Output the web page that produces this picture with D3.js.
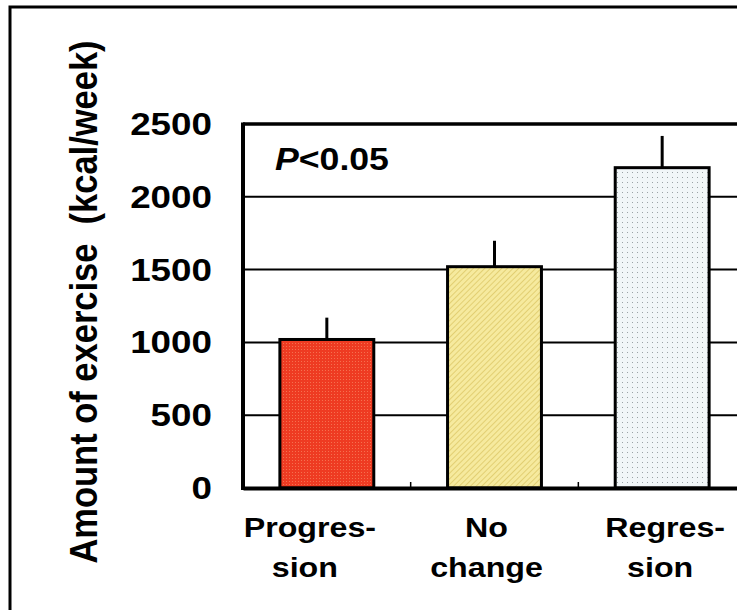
<!DOCTYPE html>
<html>
<head>
<meta charset="utf-8">
<script src="https://cdn.jsdelivr.net/npm/d3@7"></script>
<style>
  body { margin: 0; background: #fff; }
  svg { display: block; }
</style>
</head>
<body>
<svg class="exercise"></svg>
<script>
// data
const categories = ["Progression", "No change", "Regression"];
const labelLines = [["Progres-", "sion"], ["No", "change"], ["Regres-", "sion"]];
const meanValues = [1020, 1520, 2200];
const errValues = [150, 178, 218];
const yTicks = [0, 500, 1000, 1500, 2000, 2500];
const pText = ["P", "<0.05"];

const W = 737, H = 610;
const stretch = 1.15; // the picture is a bit wide
const font = "'Liberation Sans', Arial, sans-serif";

const svg = d3.select(".exercise")
    .attr("width", W)
    .attr("height", H);

// textures for the bars
const defs = svg.append("defs");

const red = defs.append("pattern")
    .attr("id", "fillRed")
    .attr("patternUnits", "userSpaceOnUse")
    .attr("width", 3).attr("height", 3);
red.append("rect").attr("width", 3).attr("height", 3).attr("fill", "#ee3b22");
red.append("rect").attr("x", 1).attr("y", 1).attr("width", 1).attr("height", 1).attr("fill", "#f5704f");

const yellow = defs.append("pattern")
    .attr("id", "fillYellow")
    .attr("patternUnits", "userSpaceOnUse")
    .attr("width", 4).attr("height", 4)
    .attr("patternTransform", "rotate(45)");
yellow.append("rect").attr("width", 4).attr("height", 4).attr("fill", "#f6ea9e");
yellow.append("rect").attr("width", 1).attr("height", 4).attr("fill", "#e2cf73");

const light = defs.append("pattern")
    .attr("id", "fillLight")
    .attr("patternUnits", "userSpaceOnUse")
    .attr("width", 5).attr("height", 5);
light.append("rect").attr("width", 5).attr("height", 5).attr("fill", "#f1f6f8");
light.append("rect").attr("x", 2).attr("y", 2).attr("width", 1).attr("height", 1).attr("fill", "#9aa2a6");

const fills = ["url(#fillRed)", "url(#fillYellow)", "url(#fillLight)"];

// outer frame of the figure (cropped at right and bottom)
svg.append("rect")
    .attr("x", 10).attr("y", 7)
    .attr("width", W + 20).attr("height", H + 20)
    .attr("fill", "none")
    .attr("stroke", "#000")
    .attr("stroke-width", 3);

const plot = {left: 243, top: 124, bottom: 488, right: 746};

const x = d3.scaleBand()
    .domain(categories)
    .range([plot.left, plot.right])
    .paddingInner(0)
    .paddingOuter(0);

const y = d3.scaleLinear()
    .domain([0, 2500])
    .range([plot.bottom, plot.top]);

const barFactor = 0.56;

function stretchText(sel, px, py) {
    return sel.attr("transform", `translate(${px},${py}) scale(${stretch},1)`);
}

// grid lines
svg.append("g")
    .selectAll("line")
    .data(yTicks.filter(d => d > 0 && d < 2500))
    .enter()
    .append("line")
        .attr("x1", plot.left)
        .attr("x2", plot.right)
        .attr("y1", d => y(d))
        .attr("y2", d => y(d))
        .attr("stroke", "#000")
        .attr("stroke-width", 2);

// error bars (upper only)
svg.append("g")
    .selectAll("line")
    .data(categories)
    .enter()
    .append("line")
        .attr("x1", d => x(d) + x.bandwidth() / 2)
        .attr("x2", d => x(d) + x.bandwidth() / 2)
        .attr("y1", (d, i) => y(meanValues[i]))
        .attr("y2", (d, i) => y(meanValues[i] + errValues[i]))
        .attr("stroke", "#000")
        .attr("stroke-width", 3);

// bars
svg.append("g")
    .selectAll("rect")
    .data(categories)
    .enter()
    .append("rect")
        .attr("x", d => x(d) + x.bandwidth() * (1 - barFactor) / 2)
        .attr("width", x.bandwidth() * barFactor)
        .attr("y", (d, i) => y(meanValues[i]))
        .attr("height", (d, i) => y(0) - y(meanValues[i]))
        .attr("fill", (d, i) => fills[i])
        .attr("stroke", "#000")
        .attr("stroke-width", 3);

// top frame line
svg.append("line")
    .attr("x1", plot.left).attr("x2", plot.right)
    .attr("y1", y(2500)).attr("y2", y(2500))
    .attr("stroke", "#000")
    .attr("stroke-width", 3.5);

// x axis with small inner ticks at the band edges
svg.append("g")
    .attr("transform", `translate(0,${plot.bottom})`)
    .call(d3.axisBottom(x).tickSize(0).tickFormat(""))
    .call(g => g.select(".domain").attr("stroke-width", 4));

svg.append("g")
    .selectAll("line")
    .data(categories.slice(1))
    .enter()
    .append("line")
        .attr("x1", d => x(d))
        .attr("x2", d => x(d))
        .attr("y1", plot.bottom)
        .attr("y2", plot.bottom - 6)
        .attr("stroke", "#000")
        .attr("stroke-width", 1.5);

// y axis line
svg.append("line")
    .attr("x1", plot.left).attr("x2", plot.left)
    .attr("y1", plot.top - 1.5).attr("y2", plot.bottom + 2)
    .attr("stroke", "#000")
    .attr("stroke-width", 4);

// y tick labels
svg.append("g")
    .selectAll("text")
    .data(yTicks)
    .enter()
    .append("text")
        .each(function(d) { stretchText(d3.select(this), 212, y(d) + 11); })
        .attr("text-anchor", "end")
        .style("font-family", font)
        .style("font-size", "32px")
        .style("font-weight", "bold")
        .text(d => d);

// category labels
const labelNudge = [-22, -8, -2];
const hyphenShift = 5;
categories.forEach(function(c, i) {
    labelLines[i].forEach(function(line, j) {
        const cx = x(c) + x.bandwidth() / 2 + labelNudge[i] + (line.endsWith("-") ? hyphenShift : 0);
        stretchText(svg.append("text"), cx, 537 + j * 40)
            .attr("text-anchor", "middle")
            .style("font-family", font)
            .style("font-size", "28px")
            .style("font-weight", "bold")
            .text(line);
    });
});

// P value note
const note = stretchText(svg.append("text"), 275, 170)
    .style("font-family", font)
    .style("font-size", "31px")
    .style("font-weight", "bold");
note.append("tspan").style("font-style", "italic").text(pText[0]);
note.append("tspan").text(pText[1]);

// y axis title
svg.append("text")
    .attr("transform", `translate(97,302) scale(${stretch},1) rotate(-90)`)
    .attr("text-anchor", "middle")
    .style("font-family", font)
    .style("font-size", "34.5px")
    .style("font-weight", "bold")
    .style("white-space", "pre")
    .text("Amount of exercise  (kcal/week)");
</script>
</body>
</html>
